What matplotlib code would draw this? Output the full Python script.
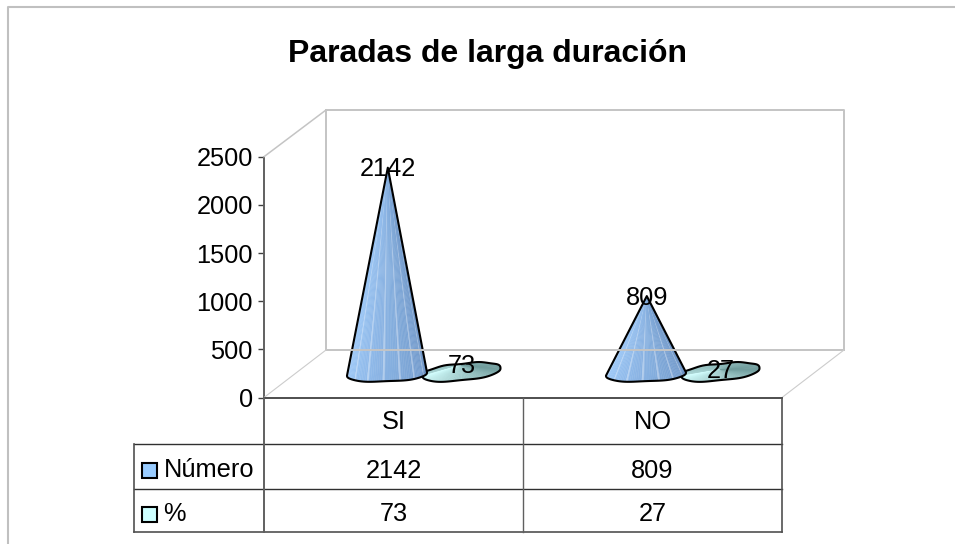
import numpy as np
import matplotlib
matplotlib.use("Agg")
import matplotlib.pyplot as plt
from matplotlib.lines import Line2D
from matplotlib.patches import Polygon, Rectangle
from matplotlib.transforms import Affine2D, blended_transform_factory, ScaledTranslation
from matplotlib.colors import to_rgb

plt.rcParams['font.family'] = ['Liberation Sans', 'DejaVu Sans']

title = "Paradas de larga duración"
categories = ["SI", "NO"]
series_names = ["Número", "%"]
numero = [2142, 809]
porcentaje = [73, 27]
y_ticks = [0, 500, 1000, 1500, 2000, 2500]

W, H = 955, 544
FS = 18.3
fig = plt.figure(figsize=(W / 100, H / 100), dpi=100, facecolor="white")
PX = Affine2D().scale(1, -1).translate(0, H)

# plot box in pixels
L, R, T, B = 264.0, 782.0, 156.7, 397.5
ax = fig.add_axes([L / W, 1 - B / H, (R - L) / W, (B - T) / H])
ax.set_xlim(-0.5, 1.5)
ax.set_ylim(0, 2500)
ax.patch.set_alpha(0)
for s in ("top", "right", "bottom"):
    ax.spines[s].set_visible(False)
ax.spines["left"].set_color("#606060")
ax.spines["left"].set_linewidth(1.4)
ax.set_xticks([])
ax.set_yticks(y_ticks)
ax.tick_params(axis="y", length=4.5, width=1, color="#404040", pad=3.5, labelsize=FS)

sx = (R - L) / 2       # px per category
sy = (B - T) / 2500    # px per value unit


def fig_line(xs, ys, color, lw, z=1):
    fig.add_artist(Line2D(xs, ys, color=color, lw=lw, transform=PX, zorder=z,
                          solid_capstyle="projecting"))


# outer frame
fig_line([8, 8, W], [H, 7, 7], "#c0c0c0", 1.5)
# back wall and floor
WALL = "#c4c4c4"
fig_line([326, 844, 844], [110, 110, 350], WALL, 1.4)
fig_line([326, 326], [110, 350], WALL, 1.4)
fig_line([326, 844], [350, 350], WALL, 1.4)
fig_line([264, 326], [156.7, 110], WALL, 1.1)
fig_line([264, 326], [397.5, 350], "#cccccc", 0.8)
fig_line([782, 844], [397.5, 350], "#cccccc", 0.8)


def cone(cat, value, dx_px, base_px, a, b, slope, c_left, c_right, z, full=False, apex_dx=0.0):
    """Shaded cone, with its height taken from the value on the y scale."""
    cx = cat + dx_px / sx
    y0 = (B - base_px) / sy
    apex = np.array([cx + apex_dx / sx, y0 + value])
    t = np.linspace(np.pi, 2 * np.pi, 61)
    wob = 1 + 0.05 * np.sin(5 * t)
    ex = cx + a * np.cos(t) / sx
    ey = y0 + (-b * np.abs(np.sin(t)) ** 0.8 * wob + slope * a * np.cos(t)) / sy
    cl, cr = np.array(to_rgb(c_left)), np.array(to_rgb(c_right))
    if full:
        tu = np.linspace(0, np.pi, 41)
        ux = cx + a * np.cos(tu) / sx
        uy = y0 + (b * np.sin(tu) ** 0.8 * (1 + 0.06 * np.sin(7 * tu)) + slope * a * np.cos(tu)) / sy
        # fan across the upper half, seen through the flat cone's top
        m = len(ux) - 1
        for j in range(m):
            f = 1 - j / (m - 1)
            c = cl + (cr - cl) * (0.45 + 0.55 * f)
            ax.add_patch(Polygon([apex, (ux[j], uy[j]), (ux[j + 1], uy[j + 1])], closed=True,
                                 fc=c, ec=c, lw=0.3, zorder=z, clip_on=False))
    n = len(ex) - 1
    for i in range(n):
        f = i / (n - 1)
        c = cl + (cr - cl) * f
        if i % 8 == 4 and not full:
            c = c + (1 - c) * 0.35
        ax.add_patch(Polygon([apex, (ex[i], ey[i]), (ex[i + 1], ey[i + 1])], closed=True,
                             fc=c, ec=c, lw=0.3, zorder=z + 0.1, clip_on=False))
    if full:
        xs = np.r_[ex, ux[1:]]
        ys = np.r_[ey, uy[1:]]
    else:
        xs = np.r_[apex[0], ex, apex[0]]
        ys = np.r_[apex[1], ey, apex[1]]
    ax.add_patch(Polygon(np.c_[xs, ys], closed=True, fc="none", ec="black", lw=1.5,
                         joinstyle="round", zorder=z + 0.2, clip_on=False))
    ax.annotate(str(value), xy=apex, xytext=(0, -1.1), textcoords="offset points",
                ha="center", va="center", fontsize=FS, color="black", zorder=10,
                annotation_clip=False)


for i in range(len(categories)):
    cone(i, porcentaje[i], 68, 372, 39, 8.5, 0.1, "#d4ffff", "#6f9c9c", 3, full=True)
    cone(i, numero[i], -6.5, 374, 40, 7.5, 0.04, "#a2cefc", "#6d94c6", 4, apex_dx=0.8)

# data table
TL = "#303030"
table_left, row_lines = 133.5, [397.5, 443.5, 489, 531.7]
fig_line([L, R], [row_lines[0], row_lines[0]], TL, 1.2, 2)
fig_line([table_left, R], [row_lines[1], row_lines[1]], TL, 1.0, 2)
fig_line([table_left, R], [row_lines[2], row_lines[2]], TL, 1.0, 2)
fig_line([table_left, R], [row_lines[3], row_lines[3]], "#505050", 1.2, 2)
fig_line([table_left, table_left], [row_lines[1], row_lines[3]], "#505050", 1.2, 2)
fig_line([L, L], [row_lines[0], row_lines[3]], "#606060", 1.4, 2)
fig_line([(L + R) / 2, (L + R) / 2], [row_lines[0], row_lines[3]], "#606060", 1.0, 2)
fig_line([R, R], [row_lines[0], row_lines[3]], "#505050", 1.2, 2)

tr = blended_transform_factory(ax.transData, PX)
for i, cat in enumerate(categories):
    ax.text(i, 422, cat, ha="center", va="center", fontsize=FS, transform=tr, clip_on=False)
    ax.text(i, 471, str(numero[i]), ha="center", va="center", fontsize=FS, transform=tr, clip_on=False)
    ax.text(i, 514, str(porcentaje[i]), ha="center", va="center", fontsize=FS, transform=tr, clip_on=False)

for name, yc, col in zip(series_names, [470.5, 514.5], ["#99ccff", "#ccffff"]):
    fig.add_artist(Rectangle((142, yc - 7.5), 14.5, 15, fc=col, ec="black", lw=1.5, transform=PX, zorder=3))
    fig.text(163.5, yc - 0.5, name, ha="left", va="center", fontsize=FS, transform=PX, color="black")

fig.text(488, 54, title, ha="center", va="center", fontsize=23, fontweight="bold",
         transform=PX, color="black")

fig.savefig("out.png", dpi=100, facecolor="white")
